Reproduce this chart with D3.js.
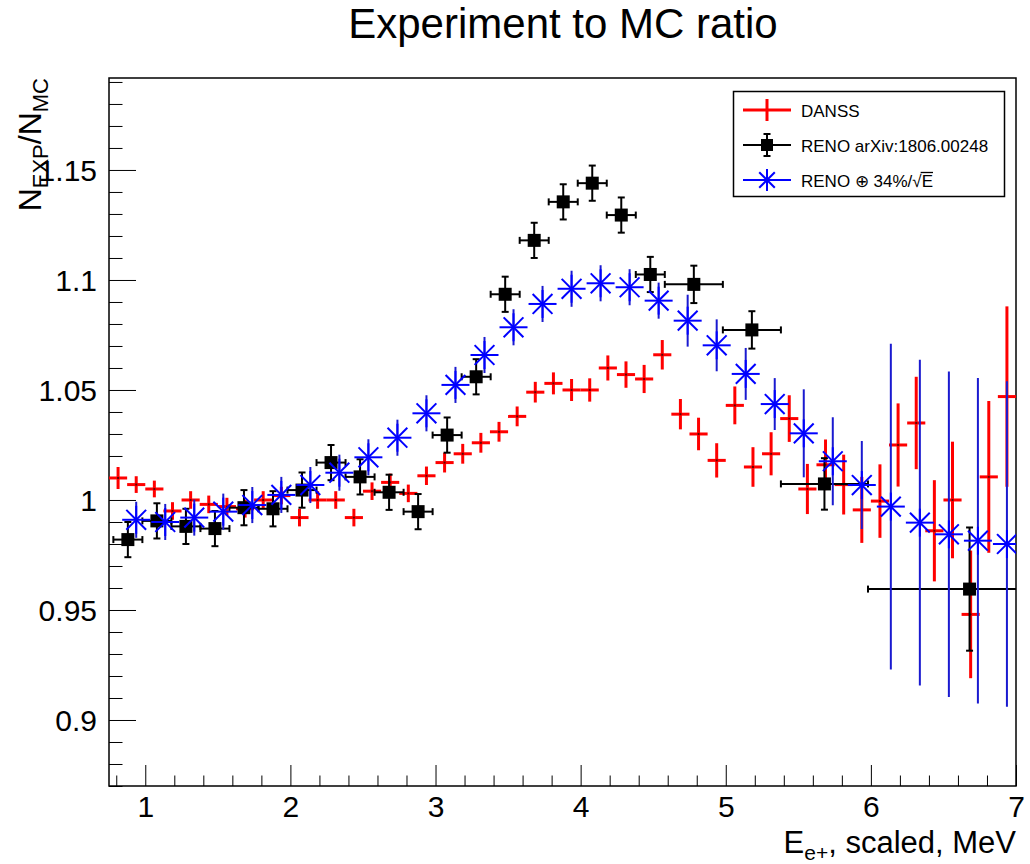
<!DOCTYPE html>
<html><head><meta charset="utf-8">
<script src="https://cdn.jsdelivr.net/npm/d3@7"></script>
<style>
body{margin:0;background:#fff}
svg{display:block}
text{font-family:"Liberation Sans",Arial,Helvetica,sans-serif;fill:#000}
</style>
</head><body>
<svg id="c" width="1030" height="864"></svg>
<script>
// ---------------- data ----------------
const titleText = "Experiment to MC ratio";
const xTickValues = [1, 2, 3, 4, 5, 6, 7];
const xTickLabels = ["1", "2", "3", "4", "5", "6", "7"];
const yTickValues = [0.9, 0.95, 1.0, 1.05, 1.1, 1.15];
const yTickLabels = ["0.9", "0.95", "1", "1.05", "1.1", "1.15"];

// DANSS (red)
const danssE = [0.8125,0.9375,1.0625,1.1875,1.3125,1.4375,1.5625,1.6875,1.8125,1.9375,
  2.0625,2.1875,2.3125,2.4375,2.5625,2.6875,2.8125,2.9375,3.0625,3.1875,
  3.3125,3.4375,3.5625,3.6875,3.8125,3.9375,4.0625,4.1875,4.3125,4.4375,
  4.5625,4.6875,4.8125,4.9375,5.0625,5.1875,5.3125,5.4375,5.5625,5.6875,
  5.8125,5.9375,6.0625,6.1875,6.3125,6.4375,6.5625,6.6875,6.8125,6.9375];
const danssHalfBin = 0.0625;
const danssVal = [1.010,1.007,1.005,0.995,1.000,0.998,0.997,0.996,1.000,1.002,
  0.992,1.000,1.000,0.992,1.004,1.008,1.003,1.011,1.017,1.021,
  1.026,1.031,1.038,1.049,1.053,1.050,1.050,1.060,1.057,1.055,
  1.066,1.039,1.030,1.018,1.043,1.015,1.021,1.037,1.005,1.016,
  1.007,0.9955,0.9995,1.025,1.035,0.986,1.000,0.948,1.0105,1.047];
const danssErr = [0.005,0.0038,0.0038,0.004,0.004,0.004,0.004,0.004,0.004,0.004,
  0.004,0.004,0.004,0.004,0.004,0.004,0.004,0.0042,0.0045,0.0045,
  0.0045,0.0045,0.0045,0.0047,0.005,0.005,0.0053,0.0057,0.006,0.0064,
  0.0067,0.0069,0.0074,0.0078,0.0086,0.009,0.0098,0.0106,0.0114,0.0115,
  0.0136,0.015,0.0167,0.0189,0.021,0.023,0.0265,0.029,0.0345,0.041];

// RENO arXiv:1806.00248 (black)
const renoE = [0.88,1.08,1.28,1.48,1.68,1.88,2.08,2.28,2.48,2.68,2.88,3.08,3.28,3.48,3.68,3.88,4.08,4.28,4.48,4.78,5.18,5.68,6.68];
const renoXErr = [0.1,0.1,0.1,0.1,0.1,0.1,0.1,0.1,0.1,0.1,0.1,0.1,0.1,0.1,0.1,0.1,0.1,0.1,0.1,0.2,0.2,0.3,0.7];
const renoVal = [0.982,0.9905,0.988,0.987,0.9965,0.996,1.0045,1.017,1.0105,1.0035,0.9947,1.0295,1.056,1.0935,1.118,1.1355,1.144,1.1295,1.1025,1.098,1.0773,1.0073,0.9595];
const renoErr = [0.008,0.008,0.008,0.008,0.008,0.008,0.008,0.008,0.008,0.008,0.008,0.008,0.008,0.008,0.008,0.008,0.008,0.008,0.008,0.0085,0.0085,0.0117,0.028];

// RENO (+) 34%/sqrt(E) (blue)
const blueE = [0.9375,1.1375,1.3375,1.5375,1.7375,1.9375,2.1375,2.3375,2.5375,2.7375,
  2.9375,3.1375,3.3375,3.5375,3.7375,3.9375,4.1375,4.3375,4.5375,4.7375,
  4.9375,5.1375,5.3375,5.5375,5.7375,5.9375,6.1375,6.3375,6.5375,6.7375,6.9375];
const blueVal = [0.991,0.990,0.992,0.9947,0.9977,1.0023,1.0068,1.0124,1.0194,1.0283,
  1.0394,1.0523,1.0659,1.0785,1.0891,1.096,1.0985,1.0967,1.0906,1.0815,
  1.0703,1.0573,1.0436,1.0303,1.0176,1.0068,0.997,0.9897,0.9844,0.9815,0.980];
const blueErr = [0.0082,0.0082,0.0082,0.0082,0.0082,0.0082,0.0082,0.0082,0.0082,0.0082,
  0.0082,0.0082,0.0082,0.0082,0.0082,0.0082,0.0082,0.0082,0.0082,0.0118,
  0.0118,0.0118,0.0118,0.020,0.020,0.020,0.074,0.074,0.074,0.074,0.074];

const legendLabels = ["DANSS", "RENO arXiv:1806.00248", "RENO \u2295 34%/\u221AE"];

// ---------------- chart ----------------
const FONT = '"Liberation Sans",Arial,Helvetica,sans-serif';
const svg = d3.select("#c");
const L = 109, R = 1016, T = 78, B = 786;
const x = d3.scaleLinear().domain([0.75, 7]).range([L, R]);
const y = d3.scaleLinear().domain([0.87, 1.1918]).range([B, T]);

svg.append("rect").attr("width",1030).attr("height",864).attr("fill","#fff");

svg.append("defs").append("clipPath").attr("id","clip")
  .append("rect").attr("x",L).attr("y",T).attr("width",R-L).attr("height",B-T);

// title
svg.append("text").attr("x",563).attr("y",38).attr("text-anchor","middle")
  .style("font-size","42px").text(titleText);

// axes: major + minor ticks inward
const xMinor = d3.range(0.8, 7.001, 0.2).filter(v => xTickValues.every(t => Math.abs(t - v) > 1e-6));
const yMinor = d3.range(0.87, 1.1901, 0.01).filter(v => yTickValues.every(t => Math.abs(t - v) > 1e-6));

const gx = svg.append("g").attr("transform",`translate(0,${B})`)
  .call(d3.axisBottom(x).tickValues(xTickValues).tickFormat((d,i)=>xTickLabels[i]).tickSizeInner(-21).tickSizeOuter(0).tickPadding(10));
gx.select(".domain").remove();
gx.selectAll(".tick line").attr("stroke","#000").attr("stroke-width",1);
gx.selectAll(".tick text").style("font-size","30px").style("font-family",FONT).attr("dy",null).attr("y",31);

const gxm = svg.append("g").attr("transform",`translate(0,${B})`)
  .call(d3.axisBottom(x).tickValues(xMinor).tickFormat("").tickSizeInner(-10.5).tickSizeOuter(0));
gxm.select(".domain").remove();
gxm.selectAll(".tick line").attr("stroke","#000");

const gy = svg.append("g").attr("transform",`translate(${L},0)`)
  .call(d3.axisLeft(y).tickValues(yTickValues).tickFormat((d,i)=>yTickLabels[i]).tickSizeInner(-27).tickSizeOuter(0).tickPadding(12));
gy.select(".domain").remove();
gy.selectAll(".tick line").attr("stroke","#000");
gy.selectAll(".tick text").style("font-size","30px").style("font-family",FONT).attr("dy","0.36em");

const gym = svg.append("g").attr("transform",`translate(${L},0)`)
  .call(d3.axisLeft(y).tickValues(yMinor).tickFormat("").tickSizeInner(-13.5).tickSizeOuter(0));
gym.select(".domain").remove();
gym.selectAll(".tick line").attr("stroke","#000");

// frame
svg.append("rect").attr("x",L).attr("y",T).attr("width",R-L).attr("height",B-T)
  .attr("fill","none").attr("stroke","#000").attr("stroke-width",1.5);

// axis titles
const xt = svg.append("text").attr("x",R).attr("y",853).attr("text-anchor","end").style("font-size","31px");
xt.append("tspan").text("E");
xt.append("tspan").attr("dy",7).style("font-size","21px").text("e+");
xt.append("tspan").attr("dy",-7).text(", scaled, MeV");

const yt = svg.append("text").attr("transform",`translate(41,${T}) rotate(-90)`).attr("text-anchor","end").style("font-size","32px");
yt.append("tspan").text("N");
yt.append("tspan").attr("dy",7).style("font-size","22px").text("EXP");
yt.append("tspan").attr("dy",-7).text("/N");
yt.append("tspan").attr("dy",7).style("font-size","22px").text("MC");

// data layer
const plot = svg.append("g").attr("clip-path","url(#clip)");

// DANSS
const danss = danssE.map((e,i)=>({e, v:danssVal[i], err:danssErr[i]}));
const gD = plot.append("g");
gD.selectAll("line.h").data(danss).join("line")
  .attr("x1",d=>x(d.e-danssHalfBin)).attr("x2",d=>x(d.e+danssHalfBin))
  .attr("y1",d=>y(d.v)).attr("y2",d=>y(d.v))
  .attr("stroke","#ff0000").attr("stroke-width",3);
gD.selectAll("line.v").data(danss).join("line")
  .attr("x1",d=>x(d.e)).attr("x2",d=>x(d.e))
  .attr("y1",d=>y(d.v-d.err)).attr("y2",d=>y(d.v+d.err))
  .attr("stroke","#ff0000").attr("stroke-width",3);
gD.selectAll("rect").data(danss).join("rect")
  .attr("x",d=>x(d.e)-1).attr("y",d=>y(d.v)-1).attr("width",2).attr("height",2)
  .attr("fill","#000").attr("opacity",0.6);

// RENO
const reno = renoE.map((e,i)=>({e, xe:renoXErr[i], v:renoVal[i], err:renoErr[i]}));
const gR = plot.append("g").attr("stroke","#000").attr("stroke-width",2);
const cap = 3.5;
reno.forEach(d=>{
  const cx = x(d.e), cy = y(d.v), xl = x(d.e-d.xe), xr = x(d.e+d.xe), yl = y(d.v-d.err), yh = y(d.v+d.err);
  gR.append("line").attr("x1",xl).attr("x2",xr).attr("y1",cy).attr("y2",cy);
  gR.append("line").attr("x1",xl).attr("x2",xl).attr("y1",cy-cap).attr("y2",cy+cap);
  gR.append("line").attr("x1",xr).attr("x2",xr).attr("y1",cy-cap).attr("y2",cy+cap);
  gR.append("line").attr("x1",cx).attr("x2",cx).attr("y1",yl).attr("y2",yh);
  gR.append("line").attr("x1",cx-cap).attr("x2",cx+cap).attr("y1",yl).attr("y2",yl);
  gR.append("line").attr("x1",cx-cap).attr("x2",cx+cap).attr("y1",yh).attr("y2",yh);
});
plot.append("g").selectAll("rect").data(reno).join("rect")
  .attr("x",d=>x(d.e)-6.5).attr("y",d=>y(d.v)-6.5).attr("width",13).attr("height",13)
  .attr("fill","#000");

// blue
const blue = blueE.map((e,i)=>({e, v:blueVal[i], err:blueErr[i]}));
const gB = plot.append("g").attr("stroke","#0000ff").attr("stroke-width",2);
function asterisk(g, cx, cy, r){
  const dd = r*0.7071;
  g.append("line").attr("x1",cx-r).attr("x2",cx+r).attr("y1",cy).attr("y2",cy);
  g.append("line").attr("x1",cx).attr("x2",cx).attr("y1",cy-r).attr("y2",cy+r);
  g.append("line").attr("x1",cx-dd).attr("x2",cx+dd).attr("y1",cy-dd).attr("y2",cy+dd);
  g.append("line").attr("x1",cx-dd).attr("x2",cx+dd).attr("y1",cy+dd).attr("y2",cy-dd);
}
blue.forEach(d=>{
  const cx = x(d.e), cy = y(d.v);
  gB.append("line").attr("x1",cx).attr("x2",cx).attr("y1",y(d.v-d.err)).attr("y2",y(d.v+d.err)).attr("stroke","#1a1ad0");
  asterisk(gB, cx, cy, 14);
});

// legend
const lg = svg.append("g");
lg.append("rect").attr("x",733.5).attr("y",91.5).attr("width",271).attr("height",105)
  .attr("fill","#fff").attr("stroke","#000").attr("stroke-width",1.5);
const rowY = [110, 145, 180];
const sx1 = 743, sx2 = 791, sxc = 767;
// DANSS
lg.append("line").attr("x1",sx1).attr("x2",sx2).attr("y1",rowY[0]).attr("y2",rowY[0]).attr("stroke","#ff0000").attr("stroke-width",3);
lg.append("line").attr("x1",sxc).attr("x2",sxc).attr("y1",rowY[0]-11).attr("y2",rowY[0]+11).attr("stroke","#ff0000").attr("stroke-width",3);
// RENO
const lr = lg.append("g").attr("stroke","#000").attr("stroke-width",2);
lr.append("line").attr("x1",sx1).attr("x2",sx2).attr("y1",rowY[1]).attr("y2",rowY[1]);
lr.append("line").attr("x1",sxc).attr("x2",sxc).attr("y1",rowY[1]-11).attr("y2",rowY[1]+11);
lr.append("line").attr("x1",sxc-3.5).attr("x2",sxc+3.5).attr("y1",rowY[1]-11).attr("y2",rowY[1]-11);
lr.append("line").attr("x1",sxc-3.5).attr("x2",sxc+3.5).attr("y1",rowY[1]+11).attr("y2",rowY[1]+11);
lg.append("rect").attr("x",sxc-6).attr("y",rowY[1]-6).attr("width",12).attr("height",12).attr("fill","#000");
// blue
const lb = lg.append("g").attr("stroke","#0000ff").attr("stroke-width",2);
lb.append("line").attr("x1",sx1).attr("x2",sx2).attr("y1",rowY[2]).attr("y2",rowY[2]);
asterisk(lb, sxc, rowY[2], 11);

const ltexts = [];
legendLabels.forEach((t,i)=>{
  ltexts.push(lg.append("text").attr("x",801).attr("y",rowY[i]+6.5).style("font-size","17px").text(t));
});
// overline over E in sqrt
(function(){
  const node = ltexts[2].node();
  const s = legendLabels[2];
  const idx = s.length - 1;
  const sq = s.length - 2;
  const ext = node.getExtentOfChar(idx);
  const extSq = node.getExtentOfChar(sq);
  lg.append("line").attr("x1",extSq.x + extSq.width - 1).attr("x2",ext.x + ext.width)
    .attr("y1",rowY[2]+6.5-14).attr("y2",rowY[2]+6.5-14).attr("stroke","#000").attr("stroke-width",1.3);
})();
</script>
</body></html>
